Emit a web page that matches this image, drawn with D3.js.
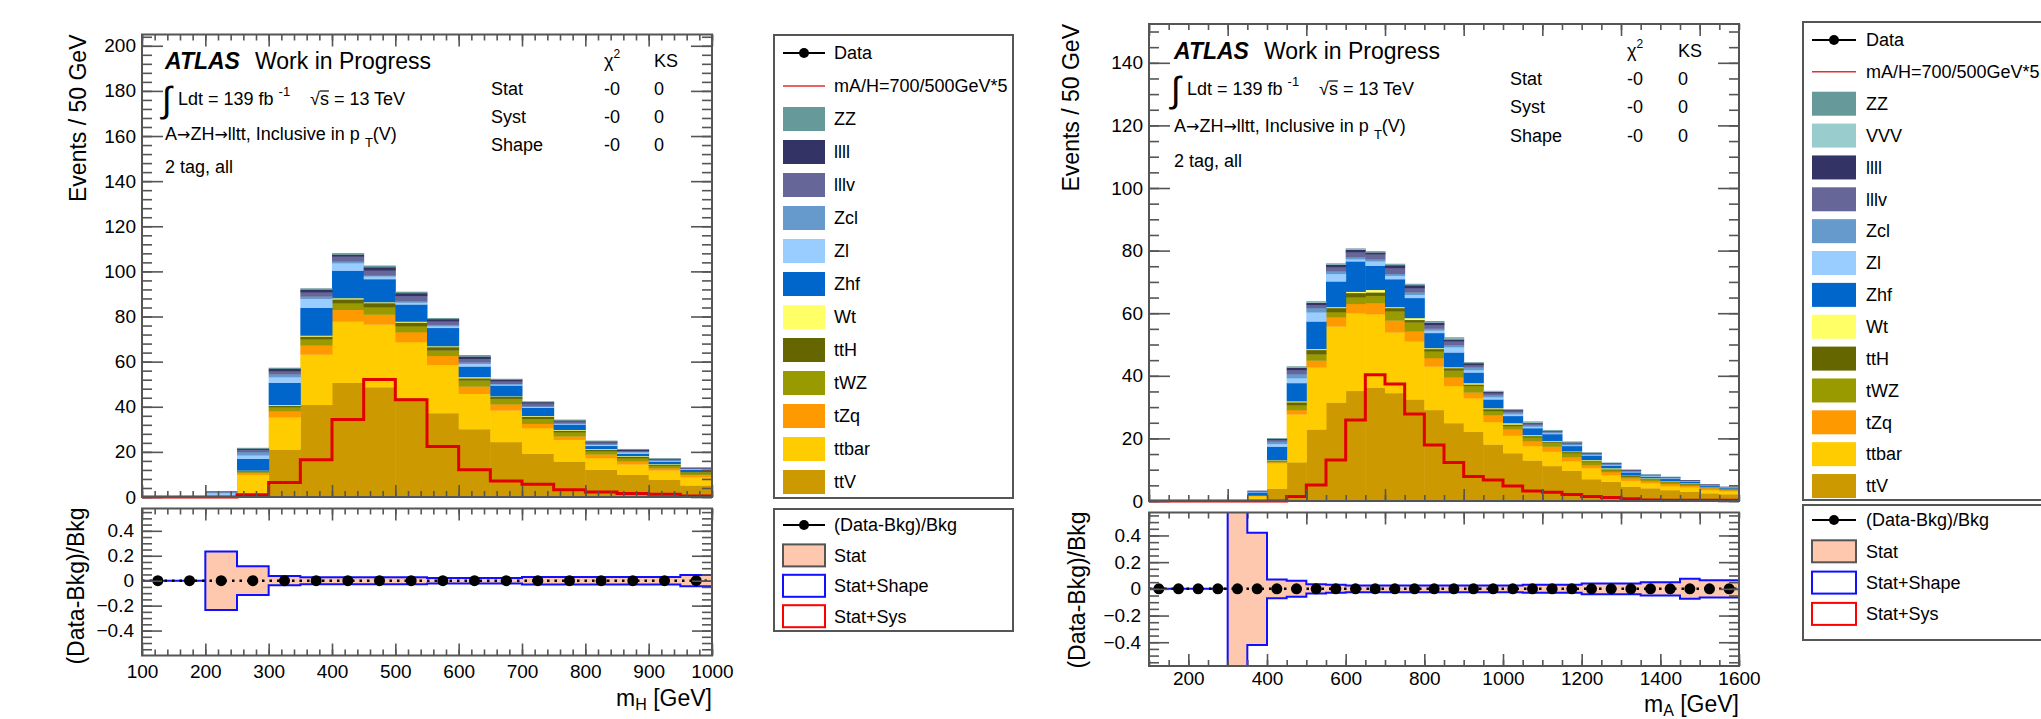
<!DOCTYPE html>
<html>
<head>
<meta charset="utf-8">
<script src="https://cdnjs.cloudflare.com/ajax/libs/d3/7.8.5/d3.min.js"></script>
<style>
  body { margin: 0; background: #fff; }
  svg text { font-family: "Liberation Sans", Arial, Helvetica, sans-serif; fill: #000; }
</style>
</head>
<body>
<svg id="chart" width="2041" height="719"></svg>
<script>
// Two stacked-background histograms with ratio panels (m_H left, m_A right)

// ---- left plot: m_H ----
const binsH    = [100,150,200,250,300,350,400,450,500,550,600,650,700,750,800,850,900,950];
const ttV_H    = [0,0,0,0.7,21.1,40.9,50.7,48.7,44,37.2,30.1,24.4,19.2,15.8,12.1,9.9,7.8,5.2];
const ttbar_H  = [0,0,0,9.2,14.3,22.3,27.1,27.8,24.7,21.4,15.7,14,11.4,9.6,5.2,4.6,4,3.7];
const tZq_H    = [0,0,0,0.9,2.6,4,5.2,4.4,4.4,4,3.2,2.7,1.9,1.5,1.6,1.3,1,1];
const tWZ_H    = [0,0,0,0.6,1.9,2.7,3,3.3,2.7,2.4,2.7,2.5,2.2,1.9,1.5,1.5,1.1,0.7];
const ttH_H    = [0,0,0,0.3,0.7,1.3,1.7,1.8,1.6,1.5,1,0.9,1,0.7,0.6,0.6,0.4,0.5];
const Wt_H     = [0,0,0,0.1,0.3,0.4,0.5,0.4,0.4,0.4,0.5,0.2,0.3,0.3,0.3,0.3,0.3,0.1];
const Zhf_H    = [0,0,0.6,5.2,9.8,12.3,12.2,10.2,7.6,8.1,4.7,4.8,3.6,2.4,1.4,1.1,1.2,0.9];
const Zl_H     = [0,0,1.2,1.5,2.5,4,3.3,1.2,0.8,0.8,1.2,0.4,0.4,0.3,0.5,0.5,0.3,0.3];
const Zcl_H    = [0,0,0.4,1.5,1.2,1,0.9,0.4,0.6,0.6,0.6,0.3,0.3,0.3,0.3,0.3,0.3,0.2];
const lllv_H   = [0,0,0.2,1,1.4,1.8,2,2.2,2.4,1.6,1.6,1.2,1.2,0.9,0.7,0.4,0.3,0.2];
const llll_H   = [0,0,0.1,0.5,1.1,1.2,0.9,1.5,1.2,0.9,1,0.7,0.6,0.3,0.5,0.5,0.3,0.2];
const ZZ_H     = [0,0,0,0.3,0.4,0.6,0.6,0.7,0.6,0.4,0.6,0.3,0.3,0.3,0.3,0.3,0.1,0.1];
const signal_H = [0,0,0,1,6.4,16.5,34.3,52.1,43.1,22.4,12.1,7.1,5.6,3.2,2.2,1.6,1.2,0.4];
const ratio_H  = [0,0,0,0,0,0,0,0,0,0,0,0,0,0,0,0,0,0];
const stat_H   = [0,0,0.235,0.115,0.037,0.028,0.028,0.028,0.028,0.022,0.022,0.022,0.03,0.03,0.03,0.03,0.03,0.045];

// ---- right plot: m_A ----
const binsA    = [100,150,200,250,300,350,400,450,500,550,600,650,700,750,800,850,900,950,1000,1050,1100,1150,1200,1250,1300,1350,1400,1450,1500,1550];
const ttV_A    = [0,0,0,0,0,0.3,4,12.4,22.9,31.5,35.2,36.3,34.5,32.5,29.1,24.9,22.2,18.1,15.3,13,11.2,9.7,7,6.2,4.6,4.1,3.5,3,2.5,2.2];
const ttbar_A  = [0,0,0,0,0,1.3,8.1,15.3,19.8,24.3,24.8,23.4,19.4,18.5,13.9,11.9,10.7,7.2,5.6,4.6,4.6,3.1,3.5,2.1,1.9,1.6,1.3,1.4,1,0.9];
const tZq_A    = [0,0,0,0,0,0.1,0.3,1.4,2.2,3,3,3.6,3.8,3.2,2.7,2.7,1.8,2.2,2,1.6,1.6,1.2,1,1,0.8,0.7,0.7,0.5,0.6,0.4];
const tWZ_A    = [0,0,0,0,0,0.1,0.4,1.6,2,1.6,2.1,2.3,2.9,2.9,2.1,2.2,2.1,1.3,1.1,1.1,1.3,1.3,1,0.6,0.5,0.5,0.6,0.5,0.3,0.3];
const ttH_A    = [0,0,0,0,0,0,0.2,0.9,1.4,1.3,1.4,1.1,1.1,0.8,0.8,0.8,0.5,0.6,0.5,0.5,0.3,0.4,0.3,0.3,0.3,0.2,0.2,0.3,0.1,0.1];
const Wt_A     = [0,0,0,0,0,0,0.1,0.3,0.3,0.3,0.4,0.8,0.3,0.6,0.3,0.3,0.4,0.3,0.4,0.3,0.2,0.2,0.3,0.3,0.1,0.2,0.1,0.1,0.1,0.1];
const Zhf_A    = [0,0,0,0,0,1,4.3,5.8,8.8,8.2,9.7,7.7,8.9,6.4,4.8,4.7,3.4,2.8,2.3,2.2,2.2,1.7,1.5,0.9,1,0.5,0.7,0.5,0.3,0.4];
const Zl_A     = [0,0,0,0,0,0.2,0.9,1.6,2.9,2.4,0.7,1.4,1.1,1,0.8,1.7,0.8,0.7,0.6,0.5,0.3,0.3,0.2,0.2,0.2,0.2,0.2,0.1,0.1,0.1];
const Zcl_A    = [0,0,0,0,0,0.1,0.7,1.3,1.4,0.8,0.7,0.7,0.6,0.8,0.6,0.7,0.8,0.6,0.5,0.5,0.3,0.3,0.2,0.2,0.2,0.2,0.1,0.1,0.1,0];
const lllv_A   = [0,0,0,0,0,0.1,0.6,1.3,1,1.4,1.5,1.5,1.9,1.4,1.2,1.1,0.8,0.7,0.5,0.5,0.3,0.4,0.3,0.2,0.2,0.2,0.2,0.1,0.1,0.1];
const llll_A   = [0,0,0,0,0,0.1,0.3,0.8,0.7,0.8,0.8,0.7,0.9,0.9,0.8,0.7,0.6,0.4,0.3,0.3,0.2,0.2,0.2,0.2,0.2,0.1,0.1,0.1,0.1,0];
const VVV_A    = [0,0,0,0,0,0,0.1,0.2,0.2,0.2,0.2,0.1,0.2,0.2,0.2,0.3,0.2,0.2,0.2,0.2,0.1,0.1,0.1,0.1,0.1,0.1,0.1,0,0,0];
const ZZ_A     = [0,0,0,0,0,0,0.1,0.1,0.2,0.1,0.2,0.2,0.2,0.2,0.2,0.3,0.1,0.1,0.1,0.1,0.1,0.1,0,0,0,0,0,0,0,0];
const signal_A = [0,0,0,0,0,0,0,1.4,5.1,13.1,25.9,40.3,37.4,27.8,17.9,12.3,7.8,6.7,4.8,3.2,2.8,2.1,1.4,1.1,0.7,0.3,0.2,0.2,0.2,0.2];
const ratio_A  = [0,0,0,0,0,0,0,0,0,0,0,0,0,0,0,0,0,0,0,0,0,0,0,0,0,0,0,0,0,0];
const stat_A   = [0,0,0,0,1.5,0.42,0.07,0.06,0.035,0.03,0.025,0.025,0.025,0.025,0.025,0.025,0.025,0.025,0.025,0.03,0.03,0.03,0.04,0.04,0.04,0.05,0.05,0.075,0.065,0.065];

// tick labels
const eventTicksH = [0,20,40,60,80,100,120,140,160,180,200];
const eventTicksA = [0,20,40,60,80,100,120,140];
const massTicksH  = [100,200,300,400,500,600,700,800,900,1000];
const massTicksA  = [200,400,600,800,1000,1200,1400,1600];
const ratioTicks  = [-0.4,-0.2,0,0.2,0.4];

// legend order (top to bottom); stack goes bottom-up in reverse
const legendH = ["ZZ","llll","lllv","Zcl","Zl","Zhf","Wt","ttH","tWZ","tZq","ttbar","ttV"];
const legendA = ["ZZ","VVV","llll","lllv","Zcl","Zl","Zhf","Wt","ttH","tWZ","tZq","ttbar","ttV"];

const colors = {
  ZZ:"#669999", VVV:"#99cccc", llll:"#333366", lllv:"#666699", Zcl:"#6699cc", Zl:"#99ccff",
  Zhf:"#0066cc", Wt:"#ffff66", ttH:"#666600", tWZ:"#999900", tZq:"#ff9900", ttbar:"#ffcc00", ttV:"#cc9900"
};
const FONT = '"Liberation Sans", Arial, Helvetica, sans-serif';
const statFill = "#fdc8ad";
const frameColor = "#555";

const svg = d3.select("#chart");

const plots = [
  {
    id: "H", bins: binsH, binWidth: 50,
    procs: { ttV:ttV_H, ttbar:ttbar_H, tZq:tZq_H, tWZ:tWZ_H, ttH:ttH_H, Wt:Wt_H, Zhf:Zhf_H, Zl:Zl_H, Zcl:Zcl_H, lllv:lllv_H, llll:llll_H, ZZ:ZZ_H },
    legend: legendH, signal: signal_H, ratio: ratio_H, stat: stat_H,
    left: 142, right: 712, mainTop: 34.5, mainBottom: 497, ratioTop: 508.5, ratioBottom: 655.5,
    xDomain: [100, 1000], yMax: 205, rDomain: [-0.6, 0.579], xMajor: 100,
    yTicks: eventTicksH, yMinor: 4, yMinorMax: 204, xTicks: massTicksH, xMinor: 20, xPad: 9,
    xTitle: "H", xTitleY: 706, yTitleX: 86, rTitleX: 84, rTitleY: 586,
    ann: { x: 165, workX: 255, atlasY: 68.5, lumiY: 105, chanY: 140, tagY: 173,
           statX: 491, chiX: 604, ksX: 654, chiY: 67, rows: [95, 123, 151] },
    leg: { x: 774, w: 239, top: 35, bottom: 498, row0: 53, step: 33.0, sw: [783, 825], tx: 834,
           top2: 509, bottom2: 631, row2: 525, step2: 30.4 }
  },
  {
    id: "A", bins: binsA, binWidth: 50,
    procs: { ttV:ttV_A, ttbar:ttbar_A, tZq:tZq_A, tWZ:tWZ_A, ttH:ttH_A, Wt:Wt_A, Zhf:Zhf_A, Zl:Zl_A, Zcl:Zcl_A, lllv:lllv_A, llll:llll_A, VVV:VVV_A, ZZ:ZZ_A },
    legend: legendA, signal: signal_A, ratio: ratio_A, stat: stat_A,
    left: 1149, right: 1739, mainTop: 24, mainBottom: 501, ratioTop: 512.5, ratioBottom: 666,
    xDomain: [100, 1600], yMax: 152.4, rDomain: [-0.578, 0.572], xMajor: 200,
    yTicks: eventTicksA, yMinor: 5, yMinorMax: 150, xTicks: massTicksA, xMinor: 50, xPad: 6,
    xTitle: "A", xTitleY: 712, yTitleX: 1079, rTitleX: 1085, rTitleY: 590,
    ann: { x: 1174, workX: 1264, atlasY: 59, lumiY: 95, chanY: 132, tagY: 167,
           statX: 1510, chiX: 1627, ksX: 1678, chiY: 57, rows: [85, 113, 142] },
    leg: { x: 1803, w: 260, top: 22, bottom: 500, row0: 40, step: 31.86, sw: [1812, 1856], tx: 1866,
           top2: 505, bottom2: 640, row2: 520, step2: 31.3 }
  }
];

plots.forEach(drawPlot);

function drawPlot(p) {
  const x  = d3.scaleLinear().domain(p.xDomain).range([p.left, p.right]);
  const y  = d3.scaleLinear().domain([0, p.yMax]).range([p.mainBottom, p.mainTop]);
  const yr = d3.scaleLinear().domain(p.rDomain).range([p.ratioBottom, p.ratioTop]);
  const g = svg.append("g").attr("id", "plot" + p.id);

  // stacked backgrounds
  const keys = p.legend.slice().reverse();
  const rows = p.bins.map((b, i) => {
    const r = { lo: b };
    keys.forEach(k => r[k] = p.procs[k][i]);
    return r;
  });
  const layers = d3.stack().keys(keys)(rows);
  g.append("g").selectAll("g").data(layers).join("g")
    .attr("fill", d => colors[d.key])
    .selectAll("rect").data(d => d.filter(v => v[1] > v[0])).join("rect")
    .attr("x", d => x(d.data.lo))
    .attr("width", d => x(d.data.lo + p.binWidth) - x(d.data.lo) + 0.5)
    .attr("y", d => y(d[1]))
    .attr("height", d => y(d[0]) - y(d[1]) + 0.3);

  // signal
  const sig = p.bins.map((b, i) => [b, p.signal[i]]);
  sig.push([p.xDomain[1], p.signal[p.signal.length - 1]]);
  g.append("path")
    .attr("d", d3.line().x(d => x(d[0])).y(d => y(d[1])).curve(d3.curveStepAfter)(sig))
    .attr("fill", "none").attr("stroke", "#e00000").attr("stroke-width", 3);

  // main axes (ticks inside, on all four sides)
  const minorY = d3.range(0, p.yMinorMax + 0.001, p.yMinor);
  const minorX = d3.range(p.xDomain[0], p.xDomain[1] + 0.001, p.xMinor);
  const majorX = d3.range(p.xDomain[0], p.xDomain[1] + 0.001, p.xMajor);
  const tickAxis = (sel) => sel.attr("font-size", 19).attr("font-family", FONT)
                              .call(a => a.select(".domain").remove())
                              .call(a => a.selectAll("line").attr("stroke", frameColor).attr("stroke-width", 1.6));

  g.append("g").attr("transform", `translate(${p.left},0)`)
    .call(d3.axisLeft(y).tickValues(p.yTicks).tickSizeInner(-21).tickSizeOuter(0).tickPadding(6).tickFormat(d3.format("d")))
    .call(tickAxis);
  g.append("g").attr("transform", `translate(${p.left},0)`)
    .call(d3.axisLeft(y).tickValues(minorY).tickSize(-10).tickFormat("")).call(tickAxis);
  g.append("g").attr("transform", `translate(${p.right},0)`)
    .call(d3.axisRight(y).tickValues(p.yTicks).tickSize(-21).tickFormat("")).call(tickAxis);
  g.append("g").attr("transform", `translate(${p.right},0)`)
    .call(d3.axisRight(y).tickValues(minorY).tickSize(-10).tickFormat("")).call(tickAxis);
  [[p.mainTop, d3.axisTop], [p.mainBottom, d3.axisBottom], [p.ratioTop, d3.axisTop]].forEach(([yy, ax]) => {
    g.append("g").attr("transform", `translate(0,${yy})`)
      .call(ax(x).tickValues(majorX).tickSize(-12).tickFormat("")).call(tickAxis);
    g.append("g").attr("transform", `translate(0,${yy})`)
      .call(ax(x).tickValues(minorX).tickSize(-6).tickFormat("")).call(tickAxis);
  });

  g.append("rect").attr("x", p.left).attr("y", p.mainTop)
    .attr("width", p.right - p.left).attr("height", p.mainBottom - p.mainTop)
    .attr("fill", "none").attr("stroke", frameColor).attr("stroke-width", 2);

  // ---- ratio panel ----
  const clipId = "clip" + p.id;
  g.append("clipPath").attr("id", clipId).append("rect")
    .attr("x", p.left).attr("y", p.ratioTop).attr("width", p.right - p.left).attr("height", p.ratioBottom - p.ratioTop);
  const rg = g.append("g").attr("clip-path", `url(#${clipId})`);

  const band = p.bins.map((b, i) => [b, p.stat[i]]);
  band.push([p.xDomain[1], p.stat[p.stat.length - 1]]);
  rg.append("path")
    .attr("d", d3.area().x(d => x(d[0])).y0(d => yr(-d[1])).y1(d => yr(d[1])).curve(d3.curveStepAfter)(band))
    .attr("fill", statFill);

  const upper = [];
  p.bins.forEach((b, i) => { upper.push([b, p.stat[i]]); upper.push([b + p.binWidth, p.stat[i]]); });
  const lower = upper.map(d => [d[0], -d[1]]).reverse();
  rg.append("path")
    .attr("d", d3.line().x(d => x(d[0])).y(d => yr(d[1]))(upper.concat(lower)) + "Z")
    .attr("fill", "none").attr("stroke", "#1010ff").attr("stroke-width", 2);

  rg.append("line").attr("x1", p.left).attr("x2", p.right).attr("y1", yr(0)).attr("y2", yr(0))
    .attr("stroke", "#000").attr("stroke-width", 2.5).attr("stroke-dasharray", "2.5,5");

  rg.selectAll("circle").data(p.bins.map((b, i) => [b + p.binWidth / 2, p.ratio[i]])).join("circle")
    .attr("cx", d => x(d[0])).attr("cy", d => yr(d[1])).attr("r", 5.5).attr("fill", "#000");

  const minorR = d3.range(-0.55, 0.551, 0.05);
  g.append("g").attr("transform", `translate(${p.left},0)`)
    .call(d3.axisLeft(yr).tickValues(ratioTicks).tickSizeInner(-20).tickSizeOuter(0).tickPadding(8)
      .tickFormat(d => d === 0 ? "0" : d3.format(".1f")(d)))
    .call(tickAxis);
  g.append("g").attr("transform", `translate(${p.left},0)`)
    .call(d3.axisLeft(yr).tickValues(minorR).tickSize(-10).tickFormat("")).call(tickAxis);
  g.append("g").attr("transform", `translate(${p.right},0)`)
    .call(d3.axisRight(yr).tickValues(ratioTicks).tickSize(-20).tickFormat("")).call(tickAxis);
  g.append("g").attr("transform", `translate(${p.right},0)`)
    .call(d3.axisRight(yr).tickValues(minorR).tickSize(-10).tickFormat("")).call(tickAxis);
  g.append("g").attr("transform", `translate(0,${p.ratioBottom})`)
    .call(d3.axisBottom(x).tickValues(p.xTicks).tickSizeInner(-12).tickSizeOuter(0).tickPadding(p.xPad).tickFormat(d3.format("d")))
    .call(tickAxis);
  g.append("g").attr("transform", `translate(0,${p.ratioBottom})`)
    .call(d3.axisBottom(x).tickValues(minorX).tickSize(-6).tickFormat("")).call(tickAxis);

  g.append("rect").attr("x", p.left).attr("y", p.ratioTop)
    .attr("width", p.right - p.left).attr("height", p.ratioBottom - p.ratioTop)
    .attr("fill", "none").attr("stroke", frameColor).attr("stroke-width", 2);

  // axis titles
  g.append("text").attr("transform", `translate(${p.yTitleX},${p.mainTop}) rotate(-90)`)
    .attr("text-anchor", "end").attr("font-size", 23).text("Events / 50 GeV");
  g.append("text").attr("transform", `translate(${p.rTitleX},${p.rTitleY}) rotate(-90)`)
    .attr("text-anchor", "middle").attr("font-size", 23).text("(Data-Bkg)/Bkg");
  const xt = g.append("text").attr("x", p.right).attr("y", p.xTitleY).attr("text-anchor", "end").attr("font-size", 23);
  xt.append("tspan").text("m");
  xt.append("tspan").attr("dy", 4).attr("font-size", 16).text(p.xTitle);
  xt.append("tspan").attr("dy", -4).text(" [GeV]");

  drawAnnotations(g, p.ann);
  drawLegend(g, p);
}

function drawAnnotations(g, a) {
  const t1 = g.append("text").attr("x", a.x).attr("y", a.atlasY).attr("font-size", 23);
  t1.append("tspan").attr("font-weight", "bold").attr("font-style", "italic").text("ATLAS");
  g.append("text").attr("x", a.workX).attr("y", a.atlasY).attr("font-size", 23).text("Work in Progress");

  g.append("text").attr("x", a.x - 3).attr("y", a.lumiY + 7).attr("font-size", 36).text("\u222B");
  const lumi = g.append("text").attr("x", a.x + 13).attr("y", a.lumiY).attr("font-size", 18);
  lumi.append("tspan").text("Ldt = 139 fb");
  lumi.append("tspan").attr("dx", 5).attr("dy", -9).attr("font-size", 13).text("-1");
  const sq = g.append("text").attr("x", a.x + 145).attr("y", a.lumiY).attr("font-size", 18).text("\u221As = 13 TeV");
  const n = sq.node();
  const sx = n.getStartPositionOfChar(1).x, sw = n.getSubStringLength(1, 1);
  g.append("line").attr("x1", sx).attr("x2", sx + sw).attr("y1", a.lumiY - 14).attr("y2", a.lumiY - 14)
    .attr("stroke", "#000").attr("stroke-width", 1.2);

  const ch = g.append("text").attr("x", a.x).attr("y", a.chanY).attr("font-size", 18);
  ch.append("tspan").text("A");
  ch.append("tspan").attr("font-family", "DejaVu Sans").attr("font-size", 16).text("\u2192");
  ch.append("tspan").text("ZH");
  ch.append("tspan").attr("font-family", "DejaVu Sans").attr("font-size", 16).text("\u2192");
  ch.append("tspan").text("lltt, Inclusive in p");
  ch.append("tspan").attr("dx", 5).attr("dy", 7).attr("font-size", 13).text("T");
  ch.append("tspan").attr("dy", -7).text("(V)");
  g.append("text").attr("x", a.x).attr("y", a.tagY).attr("font-size", 18).text("2 tag, all");

  const chi = g.append("text").attr("x", a.chiX).attr("y", a.chiY).attr("font-size", 18);
  chi.append("tspan").text("\u03C7");
  chi.append("tspan").attr("dy", -9).attr("font-size", 12).text("2");
  g.append("text").attr("x", a.ksX).attr("y", a.chiY).attr("font-size", 18).text("KS");
  ["Stat", "Syst", "Shape"].forEach((lab, i) => {
    g.append("text").attr("x", a.statX).attr("y", a.rows[i]).attr("font-size", 18).text(lab);
    g.append("text").attr("x", a.chiX).attr("y", a.rows[i]).attr("font-size", 18).text("-0");
    g.append("text").attr("x", a.ksX).attr("y", a.rows[i]).attr("font-size", 18).text("0");
  });
}

function drawLegend(g, p) {
  const L = p.leg;
  g.append("rect").attr("x", L.x).attr("y", L.top).attr("width", L.w).attr("height", L.bottom - L.top)
    .attr("fill", "#fff").attr("stroke", frameColor).attr("stroke-width", 2);
  g.append("rect").attr("x", L.x).attr("y", L.top2).attr("width", L.w).attr("height", L.bottom2 - L.top2)
    .attr("fill", "#fff").attr("stroke", frameColor).attr("stroke-width", 2);
  const [s0, s1] = L.sw;
  const label = (yy, txt) => g.append("text").attr("x", L.tx).attr("y", yy).attr("dy", "0.35em")
    .attr("font-size", 18).text(txt);

  // Data + signal
  let yy = L.row0;
  g.append("line").attr("x1", s0).attr("x2", s1).attr("y1", yy).attr("y2", yy).attr("stroke", "#000").attr("stroke-width", 2);
  g.append("circle").attr("cx", (s0 + s1) / 2).attr("cy", yy).attr("r", 5).attr("fill", "#000");
  label(yy, "Data");
  yy += L.step;
  g.append("line").attr("x1", s0).attr("x2", s1).attr("y1", yy).attr("y2", yy).attr("stroke", "#e03030").attr("stroke-width", 1.5);
  label(yy, "mA/H=700/500GeV*5");
  p.legend.forEach((k, i) => {
    const cy = L.row0 + (i + 2) * L.step;
    g.append("rect").attr("x", s0).attr("y", cy - 12).attr("width", s1 - s0).attr("height", 24).attr("fill", colors[k]);
    label(cy, k);
  });

  // ratio legend
  let ry = L.row2;
  g.append("line").attr("x1", s0).attr("x2", s1).attr("y1", ry).attr("y2", ry).attr("stroke", "#000").attr("stroke-width", 2);
  g.append("circle").attr("cx", (s0 + s1) / 2).attr("cy", ry).attr("r", 5).attr("fill", "#000");
  label(ry, "(Data-Bkg)/Bkg");
  const boxes = [["Stat", statFill, "#555"], ["Stat+Shape", "#fff", "#1010ff"], ["Stat+Sys", "#fff", "#ff0000"]];
  boxes.forEach(([txt, fill, stroke], i) => {
    const cy = L.row2 + (i + 1) * L.step2;
    g.append("rect").attr("x", s0).attr("y", cy - 11).attr("width", s1 - s0).attr("height", 22)
      .attr("fill", fill).attr("stroke", stroke).attr("stroke-width", 2);
    label(cy, txt);
  });
}
</script>
</body>
</html>
